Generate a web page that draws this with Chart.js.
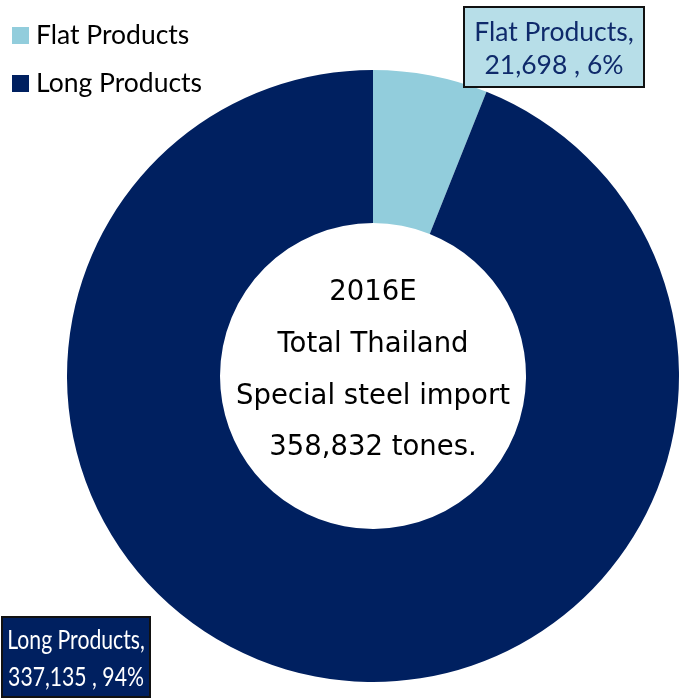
<!DOCTYPE html>
<html>
<head>
<meta charset="utf-8">
<script src="https://cdn.jsdelivr.net/npm/chart.js@4"></script>
<style>
  body { margin: 0; background: #fff; }
  #wrap { width: 681px; height: 700px; }
</style>
</head>
<body>
<div id="wrap"><canvas id="grafico-import" width="681" height="700"></canvas></div>
<script>
// Special steel import 2016E, tonnes
const categorias = ['Flat Products', 'Long Products'];
const toneladas = [21698, 337135];
const cores = ['#92CDDC', '#002060'];
const textoCentro = ['2016E', 'Total Thailand', 'Special steel import', '358,832 tones.'];

const fonteRotulo = 'Lato, "Open Sans", sans-serif';
const fonteCentro = '"DejaVu Sans", sans-serif';

const total = toneladas.reduce((s, v) => s + v, 0);
const fmt = v => v.toLocaleString('en-US');
const pct = v => Math.round(v / total * 100) + '%';

// legend in the top-left corner
const legendaPlugin = {
    id: 'legenda',
    afterDraw(chart) {
        const ctx = chart.ctx;
        ctx.save();
        ctx.font = '26.5px ' + fonteRotulo;
        ctx.textBaseline = 'middle';
        categorias.forEach((nome, i) => {
            const y = 35 + i * 48;
            ctx.fillStyle = cores[i];
            ctx.fillRect(12, y - 8, 17, 17);
            ctx.fillStyle = '#000';
            ctx.fillText(nome, 36, y);
        });
        ctx.restore();
    }
};

// text inside the hole
const centroPlugin = {
    id: 'centro',
    afterDraw(chart) {
        const arc = chart.getDatasetMeta(0).data[0];
        const ctx = chart.ctx;
        ctx.save();
        ctx.font = '27.5px ' + fonteCentro;
        ctx.fillStyle = '#000';
        ctx.textAlign = 'center';
        ctx.textBaseline = 'middle';
        textoCentro.forEach((linha, i) => {
            ctx.fillText(linha, arc.x, arc.y - 83 + i * 51.7);
        });
        ctx.restore();
    }
};

// boxed data labels: name, value, share
const rotulosPlugin = {
    id: 'rotulos',
    afterDraw(chart) {
        const ctx = chart.ctx;
        const caixas = [
            { x: 464, y: 7, w: 180, h: 80, fundo: '#B7DEE8', texto: '#0F2A6B', escala: 1, l1: 25, l2: 58 },
            { x: 2, y: 617, w: 148, h: 80, fundo: '#002060', texto: '#FFFFFF', escala: 0.8, l1: 23, l2: 60 }
        ];
        ctx.save();
        ctx.font = '26.5px ' + fonteRotulo;
        ctx.textAlign = 'center';
        ctx.textBaseline = 'middle';
        caixas.forEach((c, i) => {
            ctx.fillStyle = c.fundo;
            ctx.fillRect(c.x, c.y, c.w, c.h);
            ctx.lineWidth = 2;
            ctx.strokeStyle = '#111';
            ctx.strokeRect(c.x, c.y, c.w, c.h);
            ctx.fillStyle = c.texto;
            const cx = c.x + c.w / 2;
            ctx.save();
            ctx.translate(cx, c.y);
            ctx.scale(c.escala, 1);
            ctx.fillText(categorias[i] + ',', 0, c.l1);
            ctx.fillText(fmt(toneladas[i]) + ' , ' + pct(toneladas[i]), 0, c.l2);
            ctx.restore();
        });
        ctx.restore();
    }
};

new Chart(document.getElementById('grafico-import').getContext('2d'), {
    type: 'doughnut',
    data: {
        labels: categorias,
        datasets: [{ data: toneladas, backgroundColor: cores, borderWidth: 0, hoverOffset: 0 }]
    },
    options: {
        responsive: false,
        animation: false,
        cutout: '50%',
        layout: { padding: { left: 67, right: 2, top: 70, bottom: 18 } },
        plugins: { legend: { display: false }, tooltip: { enabled: false } }
    },
    plugins: [legendaPlugin, centroPlugin, rotulosPlugin]
});
</script>
</body>
</html>
